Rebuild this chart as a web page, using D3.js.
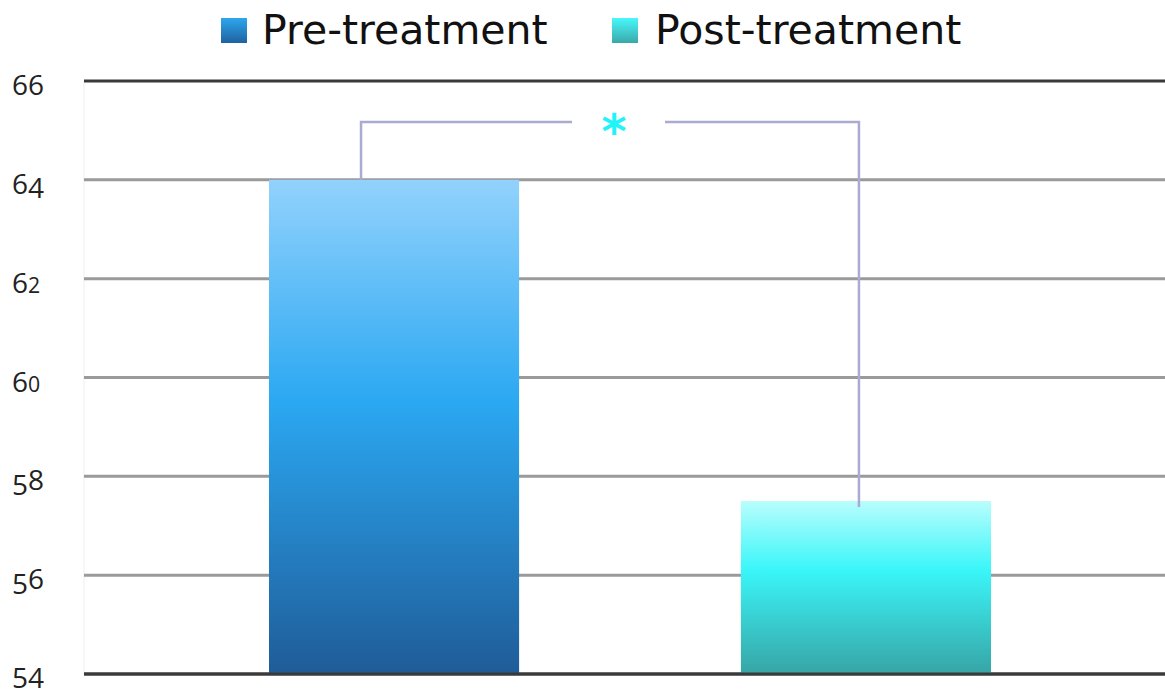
<!DOCTYPE html>
<html>
<head>
<meta charset="utf-8">
<script src="https://cdn.jsdelivr.net/npm/d3@7"></script>
<style>
  html, body { margin: 0; padding: 0; background: #fff; }
  svg { display: block; }
  .tick-label { font-family: "Open Sans", sans-serif; fill: #222; }
  .legend-label { font-family: "DejaVu Sans", sans-serif; fill: #111; }
</style>
</head>
<body>
<svg id="chart" width="1165" height="696"></svg>
<script>
// Group labels and mean scores
const categories = ["Pre-treatment", "Post-treatment"];
const values = [64, 57.5];
const yTicks = [54, 56, 58, 60, 62, 64, 66];
const significance = "*";

const W = 1165, H = 696;
const plot = { left: 84, right: 1165, top: 81, bottom: 674 };

const svg = d3.select("#chart");
const defs = svg.append("defs");

// Vertical gradients for each bar
const gradStops = [
  [["0%", "#92d2fc"], ["45%", "#2ba8f2"], ["100%", "#1f5c98"]],
  [["0%", "#b9fdfd"], ["40%", "#3af6f9"], ["100%", "#37a5a6"]]
];
gradStops.forEach((stops, i) => {
  const g = defs.append("linearGradient")
    .attr("id", "grad" + i).attr("x1", 0).attr("y1", 0).attr("x2", 0).attr("y2", 1);
  stops.forEach(([o, c]) => g.append("stop").attr("offset", o).attr("stop-color", c));
});
const legendStops = [
  [["0%", "#2ea6ee"], ["100%", "#1f62a0"]],
  [["0%", "#48f8fb"], ["100%", "#3aa8a8"]]
];
legendStops.forEach((stops, i) => {
  const g = defs.append("linearGradient")
    .attr("id", "lgrad" + i).attr("x1", 0).attr("y1", 0).attr("x2", 0).attr("y2", 1);
  stops.forEach(([o, c]) => g.append("stop").attr("offset", o).attr("stop-color", c));
});

const y = d3.scaleLinear().domain([54, 66]).range([plot.bottom, plot.top]);
// Band layout: the band range runs a little past the right edge of the page
const x = d3.scaleBand().domain(categories).range([plot.left, 1176]).paddingInner(0.47).paddingOuter(0.392);

// Faint left edge
svg.append("line")
  .attr("x1", plot.left).attr("x2", plot.left)
  .attr("y1", plot.top).attr("y2", plot.bottom)
  .attr("stroke", "#eeeeee").attr("stroke-width", 1);

// Gridlines
const grid = svg.append("g");
yTicks.forEach(t => {
  const edge = t === 54 || t === 66;
  grid.append("line")
    .attr("x1", plot.left).attr("x2", plot.right)
    .attr("y1", y(t)).attr("y2", y(t))
    .attr("stroke", edge ? "#3a3a3a" : "#9a9a9a")
    .attr("stroke-width", 3);
});

// Tick labels in old-style figures: small digits sit on the x-height,
// descending digits drop below the baseline
const fs = 28;
const small = new Set(["0", "1", "2"]);
const descend = new Set(["3", "4", "5", "7", "9"]);
const maxBase = H - 8;
const yAxis = svg.append("g");
yTicks.forEach(t => {
  const drops = String(t).split("").some(ch => descend.has(ch));
  const base = Math.min(y(t) + 14, maxBase - (drops ? fs * 0.16 : 0));
  const txt = yAxis.append("text")
    .attr("class", "tick-label")
    .attr("x", 12)
    .attr("y", base)
    .attr("font-size", fs);
  String(t).split("").forEach(ch => {
    txt.append("tspan")
      .attr("y", descend.has(ch) ? base + fs * 0.16 : base)
      .attr("font-size", small.has(ch) ? fs * 0.76 : fs)
      .text(ch);
  });
});

// Bars
svg.append("g").selectAll("rect")
  .data(categories)
  .join("rect")
  .attr("x", d => x(d))
  .attr("width", x.bandwidth())
  .attr("y", (d, i) => y(values[i]))
  .attr("height", (d, i) => y(54) - y(values[i]) - 1)
  .attr("fill", (d, i) => `url(#grad${i})`);

// Redraw baseline over bars
svg.append("line")
  .attr("x1", plot.left).attr("x2", plot.right)
  .attr("y1", y(54)).attr("y2", y(54))
  .attr("stroke", "#3a3a3a").attr("stroke-width", 3);

// Significance bracket
const bx0 = x(categories[0]) + x.bandwidth() * 0.368;
const bx1 = x(categories[1]) + x.bandwidth() * 0.472;
const by = y(65.17);
const gapL = 572, gapR = 665;
const br = svg.append("g").attr("fill", "none").attr("stroke", "#aaaad2").attr("stroke-width", 2.5);
br.append("path").attr("d", `M${bx0},${y(values[0])} V${by} H${gapL}`);
br.append("path").attr("d", `M${gapR},${by} H${bx1} V${y(values[1]) + 6}`);
svg.append("text")
  .attr("x", 614).attr("y", by + 26)
  .attr("text-anchor", "middle")
  .attr("font-family", "DejaVu Sans, sans-serif")
  .attr("font-weight", "bold")
  .attr("font-size", 48)
  .attr("fill", "#20f4f8")
  .text(significance);

// Legend
const legendItems = [
  { x: 221, textX: 262, label: categories[0] },
  { x: 612, textX: 655, label: categories[1] }
];
const lg = svg.append("g");
legendItems.forEach((d, i) => {
  lg.append("rect").attr("x", d.x).attr("y", 18).attr("width", 26).attr("height", 25)
    .attr("fill", `url(#lgrad${i})`);
  lg.append("text").attr("class", "legend-label")
    .attr("x", d.textX).attr("y", 44)
    .attr("font-size", 41)
    .text(d.label);
});
</script>
</body>
</html>
